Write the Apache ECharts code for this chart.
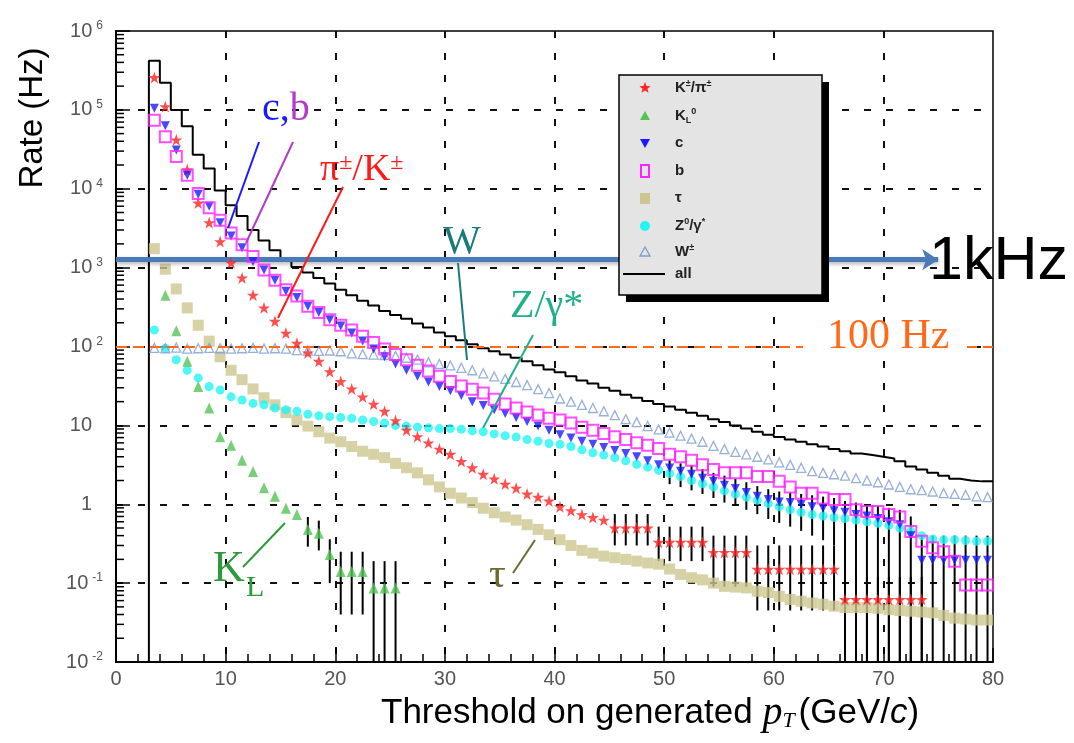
<!DOCTYPE html>
<html>
<head>
<meta charset="utf-8">
<script src="https://cdn.jsdelivr.net/npm/echarts@6.0.0/dist/echarts.min.js"></script>
<style>
html,body{margin:0;padding:0;background:#fff;}
#chart{width:1074px;height:743px;}
</style>
</head>
<body>
<div id="chart"></div>
<script>
// ---------------- data: rate (Hz) per 1 GeV/c bin of the pT threshold ----------------
const firstBin = 3;     // lower edge of first bin for all series except K_L
const kLFirstBin = 4;

const allRate = [420000,220000,100000,62000,27000,18000,9500,6200,4500,3000,2200,1660,1260,1020,870,740,630,525,447,380,331,282,251,224,195,174,151,135,120,107,95,87,79,72,65,58,51,47,42,37,34,30,27.5,24.5,22.4,20.4,18.6,17.4,15.8,14.5,13.2,12.0,11.0,10.0,9.1,8.3,7.6,7.1,6.6,6.2,5.75,5.4,5.0,4.7,4.4,4.2,4.0,3.8,3.5,3.0,2.75,2.5,2.3,2.1,2.0,1.95,1.95];

const piKRate = [257000,110000,41700,17400,6600,3720,2140,1150,741,447,309,209,148,110,83,65,48,36,29,23,18.6,15.1,11.5,8.7,7.2,6.0,5.0,4.3,3.5,2.9,2.4,2.1,1.8,1.6,1.35,1.23,1.1,0.93,0.83,0.74,0.68,0.63,0.5,0.5,0.5,0.5,0.33,0.33,0.33,0.33,0.33,0.245,0.245,0.245,0.245,0.15,0.15,0.15,0.15,0.15,0.15,0.15,0.15,0.062,0.062,0.062,0.062,0.062,0.062,0.062,0.062];

const kLRate = [447,158,65,31,16.6,7.2,5.6,3.6,2.6,1.62,1.26,0.89,0.74,0.48,0.43,0.23,0.14,0.14,0.14,0.087,0.087,0.087];

const cRate = [105000,63000,30900,14800,8500,6000,3700,2510,1780,1200,933,692,501,417,324,269,219,182,148,117,93,74,60,50,42,35.5,31,27.5,24,20,17.8,15.8,14.1,12.6,11.2,9.8,8.7,7.6,6.9,6.3,5.75,5.25,4.8,4.4,4.0,3.55,3.16,2.88,2.63,2.4,2.14,1.95,1.74,1.58,1.41,1.26,1.15,1.07,1.05,1.0,0.93,0.89,0.83,0.79,0.74,0.71,0.66,0.6,0.55,0.4,0.195,0.195,0.195,0.195,0.195,0.195,0.195];

const bRate = [74000,45700,25700,14800,8700,5750,3980,2750,1950,1380,933,692,525,437,324,269,219,186,162,135,112,93,79,68,58,49,42,36,31.6,28.8,25.7,21.4,18.6,16.6,14.8,13.5,12.3,11.7,10.7,9.5,8.7,7.9,7.2,6.6,6.0,5.6,5.1,4.3,4.0,3.6,3.16,2.75,2.5,2.5,2.5,2.24,2.24,1.95,1.66,1.38,1.38,1.2,1.15,1.15,0.85,0.81,0.81,0.74,0.69,0.45,0.34,0.28,0.25,0.19,0.095,0.095,0.095];

const tauRate = [1740,955,537,309,186,117,74,50,38,29,22.4,18.2,14.5,11.7,9.8,8.3,6.9,6.2,5.4,4.7,4.3,3.9,3.3,2.9,2.5,2.04,1.66,1.38,1.2,1.05,0.89,0.78,0.69,0.63,0.55,0.48,0.41,0.355,0.30,0.26,0.24,0.22,0.21,0.20,0.19,0.18,0.174,0.151,0.129,0.117,0.11,0.1,0.091,0.089,0.087,0.079,0.076,0.068,0.062,0.059,0.056,0.054,0.051,0.049,0.049,0.049,0.048,0.046,0.045,0.044,0.043,0.042,0.039,0.036,0.035,0.034,0.034];

const zRate = [162,95,68,50,40,31,28,23,21,19,18.2,16.6,15.8,15.1,13.8,13.2,12.9,12.6,12.3,11.7,11.2,10.7,10,9.8,9.5,9.3,9.1,9.1,8.9,8.5,8.3,7.8,7.4,7.1,6.6,6.3,5.9,5.75,5.4,4.9,4.5,4.2,3.9,3.55,3.2,2.95,2.7,2.45,2.24,2.0,1.82,1.66,1.48,1.35,1.23,1.12,1.02,0.93,0.85,0.79,0.74,0.71,0.68,0.66,0.63,0.6,0.575,0.54,0.5,0.457,0.4,0.363,0.355,0.355,0.347,0.339,0.339];

const wRate = [96,95,97,94,95,96,95,94,95,96,94,95,94,90,89,88,89,87,82,80,79,78,76,72,68,63,60,57.5,53.7,50,45.7,41.7,38.9,35.5,32.4,28.8,25.7,21.9,20,18.2,16.6,15.1,13.5,12,11,9.8,8.9,8.1,7.4,6.8,6.2,5.5,5.0,4.6,4.3,4.0,3.7,3.4,3.16,2.9,2.63,2.5,2.4,2.3,2.14,2.0,1.9,1.78,1.66,1.55,1.51,1.45,1.38,1.35,1.32,1.26,1.23];

// error bars: [bin lower edge, low, high]
const piKErr = [[45,0.3,0.75],[46,0.3,0.75],[47,0.3,0.75],[48,0.3,0.75],[49,0.19,0.52],[50,0.19,0.52],[51,0.19,0.52],[52,0.19,0.52],[53,0.19,0.52],[54,0.09,0.4],[55,0.09,0.4],[56,0.09,0.4],[57,0.09,0.4],[58,0.045,0.3],[59,0.045,0.3],[60,0.045,0.3],[61,0.045,0.3],[62,0.045,0.3],[63,0.045,0.3],[64,0.045,0.3],[65,0.045,0.3],[66,0.01,0.12],[67,0.01,0.12],[68,0.01,0.12],[69,0.01,0.12],[70,0.01,0.12],[71,0.01,0.12],[72,0.01,0.12],[73,0.01,0.12]];
const kLErr = [[17,0.29,0.69],[18,0.26,0.62],[19,0.1,0.36],[20,0.04,0.25],[21,0.04,0.25],[22,0.04,0.25],[23,0.01,0.19],[24,0.01,0.19],[25,0.01,0.19]];
const cErr = [[50,1.8,3.6],[51,1.65,3.3],[52,1.5,3.1],[53,1.35,2.8],[54,1.2,2.5],[55,1.05,2.3],[56,0.95,2.1],[57,0.85,1.9],[58,0.75,1.7],[59,0.65,1.55],[60,0.58,1.45],[61,0.52,1.4],[62,0.46,1.35],[63,0.4,1.3],[64,0.35,1.25],[65,0.3,1.2],[66,0.01,1.1],[67,0.01,1.05],[68,0.01,1.0],[69,0.01,0.95],[70,0.01,0.9],[71,0.01,0.85],[72,0.01,0.7],[73,0.01,0.4],[74,0.01,0.4],[75,0.01,0.4],[76,0.01,0.4],[77,0.01,0.4],[78,0.01,0.4],[79,0.01,0.4]];

const yTickExponents = [-2,-1,0,1,2,3,4,5,6];
const rate100Hz = 100;
const rate1kHzLine = 1260;

// ---------------- helpers ----------------
const SANS = 'Liberation Sans', SERIF = 'Liberation Serif';
const centers = (arr, start) => arr.map((v, i) => [start + i + 0.5, v]);
const steps = (arr, start) => {
  const p = [[start, 0.01]];
  arr.forEach((v, i) => { p.push([start + i, v]); p.push([start + i + 1, v]); });
  return p;
};
const minorY = [];
yTickExponents.slice(0, -1).forEach(e => { for (let k = 2; k <= 9; k++) minorY.push([0, k * Math.pow(10, e)]); });

const STAR = 'path://M50,0 L61.8,35.4 L99,35.4 L69,57.3 L80.4,92.7 L50,70.8 L19.6,92.7 L31,57.3 L1,35.4 L38.2,35.4 Z';
const TRI_DOWN = 'path://M0,0 L100,0 L50,90 Z';

function errSeries(name, bars) {
  return {
    type: 'custom', name: name, silent: true, z: 2, clip: true,
    data: bars.map(b => [b[0] + 0.5, b[1], b[2]]),
    encode: { x: 0, y: [1, 2] },
    renderItem: (params, api) => {
      const a = api.coord([api.value(0), api.value(1)]);
      const b = api.coord([api.value(0), api.value(2)]);
      return { type: 'line', shape: { x1: a[0], y1: a[1], x2: b[0], y2: b[1] }, style: { stroke: '#000', lineWidth: 2 } };
    }
  };
}
function starPts(cx, cy, R) {
  const pts = [];
  for (let i = 0; i < 10; i++) {
    const ang = -Math.PI / 2 + i * Math.PI / 5, r = i % 2 ? R * 0.42 : R;
    pts.push([cx + r * Math.cos(ang), cy + r * Math.sin(ang)]);
  }
  return pts;
}
function txt(text, x, y, size, color, family, extra) {
  return {
    type: 'text', z: 50, silent: true,
    style: Object.assign({ text: text, x: x, y: y, fill: color, fontSize: size, fontFamily: family, verticalAlign: 'middle' }, extra || {})
  };
}
function seg(x1, y1, x2, y2, color) {
  return { type: 'line', z: 50, silent: true, shape: { x1, y1, x2, y2 }, style: { stroke: color, lineWidth: 2 } };
}

const chart = echarts.init(document.getElementById('chart'), null, { renderer: 'canvas' });

// legend rows
const LX = 645, TX = 675;
const legendRows = [88, 116, 143, 171, 198, 226, 252, 274];
const legRich = {
  t: { fontFamily: SANS, fontSize: 15, fontWeight: 'bold', fill: '#222', lineHeight: 18 },
  s: { fontFamily: SANS, fontSize: 9, fontWeight: 'bold', fill: '#222', verticalAlign: 'top', lineHeight: 9 },
  d: { fontFamily: SANS, fontSize: 9, fontWeight: 'bold', fill: '#222', verticalAlign: 'bottom', lineHeight: 9 }
};
const legendLabels = ['{t|K}{s|±}{t|/π}{s|±}', '{t|K}{d|L}{s|0}', '{t|c}', '{t|b}', '{t|τ}', '{t|Z}{s|0}{t|/γ}{s|*}', '{t|W}{s|±}', '{t|all}'];

const graphics = [
  // legend box with shadow
  { type: 'rect', z: 40, silent: true, shape: { x: 626, y: 82, width: 203, height: 220 }, style: { fill: '#000' } },
  { type: 'rect', z: 41, silent: true, shape: { x: 619, y: 75, width: 203, height: 220 }, style: { fill: '#e4e4e4', stroke: '#000', lineWidth: 1.5 } },
  { type: 'polygon', z: 42, silent: true, shape: { points: starPts(LX, legendRows[0], 6) }, style: { fill: '#ff2222' } },
  { type: 'polygon', z: 42, silent: true, shape: { points: [[LX, legendRows[1] - 5], [LX + 5, legendRows[1] + 4], [LX - 5, legendRows[1] + 4]] }, style: { fill: '#55c455' } },
  { type: 'polygon', z: 42, silent: true, shape: { points: [[LX - 5, legendRows[2] - 4], [LX + 5, legendRows[2] - 4], [LX, legendRows[2] + 5]] }, style: { fill: '#1a1aff' } },
  { type: 'rect', z: 42, silent: true, shape: { x: LX - 4, y: legendRows[3] - 6, width: 8, height: 12 }, style: { fill: 'none', stroke: '#ff22ff', lineWidth: 2 } },
  { type: 'rect', z: 42, silent: true, shape: { x: LX - 5, y: legendRows[4] - 5, width: 10, height: 11 }, style: { fill: '#cdc690' } },
  { type: 'circle', z: 42, silent: true, shape: { cx: LX, cy: legendRows[5], r: 5 }, style: { fill: '#22f4f4' } },
  { type: 'polygon', z: 42, silent: true, shape: { points: [[LX, legendRows[6] - 5], [LX + 5, legendRows[6] + 4], [LX - 5, legendRows[6] + 4]] }, style: { fill: 'none', stroke: '#7d9bd0', lineWidth: 1.3 } },
  { type: 'line', z: 42, silent: true, shape: { x1: 623, y1: legendRows[7], x2: 665, y2: legendRows[7] }, style: { stroke: '#000', lineWidth: 2 } }
];
legendLabels.forEach((l, i) => graphics.push({ type: 'text', z: 43, silent: true, style: { text: l, x: TX, y: legendRows[i], verticalAlign: 'middle', rich: legRich } }));

// annotations
const serifRich = (size, color) => ({
  n: { fontFamily: SERIF, fontSize: size, fill: color, lineHeight: size },
  s: { fontFamily: SERIF, fontSize: Math.round(size * 0.62), fill: color, verticalAlign: 'top', lineHeight: Math.round(size * 0.62) }
});
graphics.push(
  { type: 'text', z: 50, silent: true, style: { text: '{c|c,}{b|b}', x: 262, y: 109, verticalAlign: 'middle',
      rich: { c: { fontFamily: SERIF, fontSize: 40, fill: '#1a1aff' }, b: { fontFamily: SERIF, fontSize: 40, fill: '#b03cc8' } } } },
  seg(259, 142, 228, 228, '#1a1aff'),
  seg(293, 142, 246, 243, '#b03cc8'),
  { type: 'text', z: 50, silent: true, style: { text: '{n|π}{s|±}{n|/K}{s|±}', x: 320, y: 170, verticalAlign: 'middle', rich: serifRich(38, '#ff1a1a') } },
  seg(343, 187, 278, 318, '#ff1a1a'),
  txt('W', 443, 242, 40, '#1a7a7a', SERIF),
  seg(458, 263, 467, 360, '#1a7a7a'),
  txt('Z/γ*', 510, 306, 40, '#20b08c', SERIF),
  seg(533, 335, 483, 428, '#20b08c'),
  txt('K', 213, 569, 44, '#2e9a3a', SERIF),
  txt('L', 246, 588, 30, '#2e9a3a', SERIF),
  seg(243, 567, 285, 523, '#2e9a3a'),
  txt('τ', 489, 576, 42, '#6b6b2d', SERIF),
  seg(513, 573, 535, 540, '#6b6b2d'),
  { type: 'rect', z: 49, silent: true, shape: { x: 803, y: 338, width: 164, height: 18 }, style: { fill: '#fff' } },
  txt('100 Hz', 827, 337, 42, '#ff6a1a', SERIF),
  txt('1kHz', 929, 262, 61, '#000', SANS),
  { type: 'text', z: 50, silent: true, rotation: Math.PI / 2, x: 33, y: 118,
    style: { text: 'Rate (Hz)', x: 0, y: 0, align: 'center', verticalAlign: 'middle', fill: '#000', fontSize: 33, fontFamily: SANS } },
  { type: 'text', z: 50, silent: true, style: { text: '{t|Threshold on generated }{p|p}{d|T}{t|(GeV/}{i|c}{t|)}', x: 381, y: 713, verticalAlign: 'middle',
      rich: {
        t: { fontFamily: SANS, fontSize: 35, fill: '#000', lineHeight: 38 },
        p: { fontFamily: SERIF, fontStyle: 'italic', fontSize: 40, fill: '#000', lineHeight: 38 },
        d: { fontFamily: SERIF, fontStyle: 'italic', fontSize: 22, fill: '#000', verticalAlign: 'bottom', lineHeight: 20, padding: [0, 4, 0, 0] },
        i: { fontFamily: SANS, fontStyle: 'italic', fontSize: 35, fill: '#000', lineHeight: 38 }
      } } }
);

const option = {
  animation: false,
  backgroundColor: '#fff',
  grid: { left: 116, right: 81, top: 31, bottom: 81, show: true, borderColor: '#000', borderWidth: 1.5, backgroundColor: 'transparent' },
  xAxis: {
    type: 'value', min: 0, max: 80, interval: 10,
    axisLine: { show: true, onZero: false, lineStyle: { color: '#000', width: 2 } },
    axisTick: { show: true, inside: true, length: 14, lineStyle: { color: '#000', width: 1.5 } },
    minorTick: { show: true, splitNumber: 5, length: 8, lineStyle: { color: '#000', width: 1.5 } },
    axisLabel: { color: '#555', fontSize: 20, fontFamily: SANS, margin: 7 },
    splitLine: { show: true, showMinLine: false, showMaxLine: false, lineStyle: { color: '#111', width: 2, type: [7, 15] } }
  },
  yAxis: {
    type: 'log', logBase: 10, min: 0.01, max: 1e6, splitNumber: 8,
    axisLine: { show: true, lineStyle: { color: '#000', width: 2 } },
    axisTick: { show: true, inside: true, length: 14, lineStyle: { color: '#000', width: 1.5 } },
    axisLabel: {
      margin: 13, fontFamily: SANS,
      formatter: v => {
        const e = Math.round(Math.log10(v));
        if (e === 0) return '{b|1}{p|}';
        if (e === 1) return '{b|10}{p|}';
        return '{b|10}{s|' + e + '}';
      },
      rich: {
        b: { fontFamily: SANS, fontSize: 20, color: '#555', lineHeight: 22 },
        s: { fontFamily: SANS, fontSize: 12, color: '#555', verticalAlign: 'top', lineHeight: 12, padding: [0, 0, 0, 4] },
        p: { width: 11 }
      }
    },
    splitLine: { show: true, showMinLine: false, showMaxLine: false, lineStyle: { color: '#111', width: 2, type: [7, 15] } }
  },
  graphic: { elements: graphics },
  series: [
    { name: 'y minor ticks', type: 'custom', silent: true, z: 3, clip: false, data: minorY, encode: { x: 0, y: 1 },
      renderItem: (params, api) => {
        const p = api.coord([api.value(0), api.value(1)]);
        return { type: 'line', shape: { x1: p[0], y1: p[1], x2: p[0] + 8, y2: p[1] }, style: { stroke: '#000', lineWidth: 1.5 } };
      } },
    { name: 'all', type: 'line', data: steps(allRate, firstBin), symbol: 'none', z: 3,
      lineStyle: { color: '#000', width: 2 },
      markLine: { silent: true, symbol: ['none', 'none'], label: { show: false },
        lineStyle: { color: '#ff6a1a', width: 2, type: [11, 6] },
        data: [{ yAxis: rate100Hz }] } },
    errSeries('err K_L', kLErr),
    errSeries('err pi/K', piKErr),
    errSeries('err c', cErr),
    { name: 'τ', type: 'scatter', data: centers(tauRate, firstBin), symbol: 'rect', symbolSize: 11, z: 4,
      itemStyle: { color: '#cdc690' } },
    { name: 'Z0/γ*', type: 'scatter', data: centers(zRate, firstBin), symbol: 'circle', symbolSize: 9, z: 4,
      itemStyle: { color: '#22f4f4' } },
    { name: 'W±', type: 'scatter', data: centers(wRate, firstBin), symbol: 'triangle', symbolSize: 9, z: 4,
      itemStyle: { color: 'rgba(255,255,255,0)', borderColor: '#7d9bd0', borderWidth: 1.3 } },
    { name: 'K_L0', type: 'scatter', data: centers(kLRate, kLFirstBin), symbol: 'triangle', symbolSize: [10, 11], z: 4,
      itemStyle: { color: '#55c455' } },
    { name: 'K±/π±', type: 'scatter', data: centers(piKRate, firstBin), symbol: STAR, symbolSize: 12, z: 5,
      itemStyle: { color: '#ff2222' } },
    { name: 'c', type: 'scatter', data: centers(cRate, firstBin), symbol: TRI_DOWN, symbolSize: [9, 9], z: 5,
      itemStyle: { color: '#1a1aff' } },
    { name: 'b', type: 'scatter', data: centers(bRate, firstBin), symbol: 'rect', symbolSize: 11, z: 6,
      itemStyle: { color: 'rgba(255,255,255,0)', borderColor: '#ff22ff', borderWidth: 2 } },
    { name: '1 kHz', type: 'line', data: [], z: 60,
      markLine: { silent: true, symbol: ['none', 'arrow'], symbolSize: 16, label: { show: false },
        lineStyle: { color: '#4a7ab8', width: 5, type: 'solid', shadowColor: 'rgba(0,0,0,0.3)', shadowBlur: 4, shadowOffsetY: 2 },
        data: [[{ coord: [0, rate1kHzLine] }, { coord: [75.0, rate1kHzLine] }]] } }
  ]
};
chart.setOption(option);
</script>
</body>
</html>
